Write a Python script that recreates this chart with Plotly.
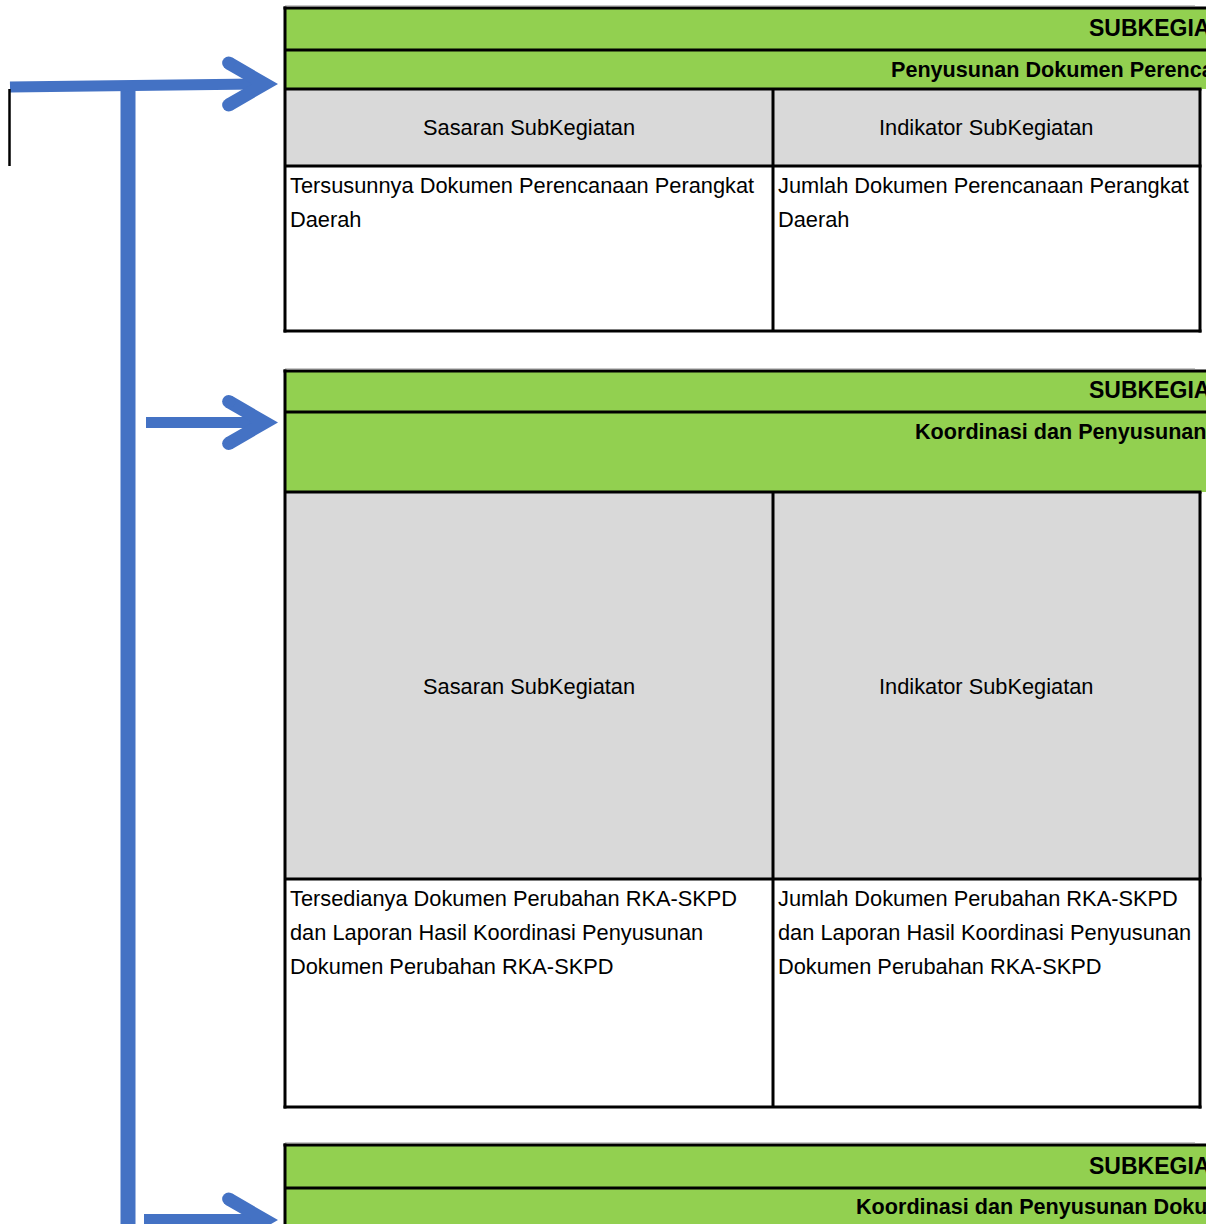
import math
import plotly.graph_objects as go

W, H = 1206, 1224

# ---------------- data (text content) ----------------
block_titles = ["SUBKEGIATAN", "SUBKEGIATAN", "SUBKEGIATAN"]
block_subtitles = [
    "Penyusunan Dokumen Perencanaan Perangkat Daerah",
    "Koordinasi dan Penyusunan Dokumen Perubahan RKA-SKPD",
    "Koordinasi dan Penyusunan Dokumen RKA-SKPD",
]
column_headers = ["Sasaran SubKegiatan", "Indikator SubKegiatan"]
sasaran_lines = [
    ["Tersusunnya Dokumen Perencanaan Perangkat", "Daerah"],
    ["Tersedianya Dokumen Perubahan RKA-SKPD",
     "dan Laporan Hasil Koordinasi Penyusunan",
     "Dokumen Perubahan RKA-SKPD"],
]
indikator_lines = [
    ["Jumlah Dokumen Perencanaan Perangkat", "Daerah"],
    ["Jumlah Dokumen Perubahan RKA-SKPD",
     "dan Laporan Hasil Koordinasi Penyusunan",
     "Dokumen Perubahan RKA-SKPD"],
]

# ---------------- layout / style constants ----------------
GREEN = "#92D050"
GRAY = "#D9D9D9"
BLUE = "#4472C4"
BLACK = "#000000"
FONT = "Liberation Sans Narrow, Arial Narrow, Liberation Sans, Arial, sans-serif"

BODY_SIZE = 21.8
TITLE_SIZE = 23
SUB_SIZE = 21.6

X_LEFT, X_MID, X_RIGHT = 285, 773, 1200
BORDER = 3

blocks = [
    dict(top=8, sep=50, green_bot=89, gray_bot=166, white_bot=331,
         title_y=28, sub_x=889, sub_y=69, head_y=127, text_y=185),
    dict(top=371, sep=412, green_bot=492, gray_bot=879, white_bot=1107,
         title_y=390, sub_x=913, sub_y=431, head_y=686, text_y=898),
    dict(top=1145, sep=1188, green_bot=H + 20, gray_bot=None, white_bot=None,
         title_y=1166, sub_x=854, sub_y=1206, head_y=None, text_y=None),
]
TITLE_X = 1087
TEXT_PAD = 288
LINE_H = 34

shapes = []
annotations = []


def rect(x0, y0, x1, y1, color):
    shapes.append(dict(type="rect", xref="x", yref="y", x0=x0, y0=y0, x1=x1, y1=y1,
                       fillcolor=color, line=dict(width=0), layer="below"))


def hline(x0, x1, y, color=BLACK, w=BORDER):
    shapes.append(dict(type="line", xref="x", yref="y", x0=x0, x1=x1, y0=y, y1=y,
                       line=dict(color=color, width=w)))


def vline(x, y0, y1, color=BLACK, w=BORDER):
    shapes.append(dict(type="line", xref="x", yref="y", x0=x, x1=x, y0=y0, y1=y1,
                       line=dict(color=color, width=w)))


def text(x, y, s, size, bold=False, xanchor="left"):
    annotations.append(dict(x=x, y=y, xref="x", yref="y", text=f"<b>{s}</b>" if bold else s,
                            showarrow=False, xanchor=xanchor, yanchor="middle",
                            font=dict(family=FONT, size=size, color=BLACK)))


for i, b in enumerate(blocks):
    # fills
    rect(X_LEFT, b["top"], W + 20, b["green_bot"], GREEN)
    if b["gray_bot"] is not None:
        rect(X_LEFT, b["green_bot"], X_RIGHT, b["gray_bot"], GRAY)
        rect(X_LEFT, b["gray_bot"], X_RIGHT, b["white_bot"], "white")
    # faint line above block
    hline(X_LEFT, 1195, b["top"] - 2.5, color="#C8C8C8", w=1)
    # borders
    hline(X_LEFT - 1.5, W + 20, b["top"])
    hline(X_LEFT, W + 20, b["sep"])
    bottom = b["white_bot"] if b["white_bot"] is not None else H + 20
    vline(X_LEFT, b["top"] - 1.5, bottom + 1.5)
    if b["gray_bot"] is not None:
        hline(X_LEFT, X_RIGHT + 1.5, b["green_bot"])
        hline(X_LEFT, X_RIGHT + 1.5, b["gray_bot"])
        hline(X_LEFT - 1.5, X_RIGHT + 1.5, b["white_bot"])
        vline(X_MID, b["green_bot"], b["white_bot"])
        vline(X_RIGHT, b["green_bot"], b["white_bot"] + 1.5)
    # texts
    text(TITLE_X, b["title_y"], block_titles[i], TITLE_SIZE, bold=True)
    text(b["sub_x"], b["sub_y"], block_subtitles[i], SUB_SIZE, bold=True)
    if b["head_y"] is not None:
        text((X_LEFT + X_MID) / 2, b["head_y"], column_headers[0], BODY_SIZE, xanchor="center")
        text((X_MID + X_RIGHT) / 2, b["head_y"], column_headers[1], BODY_SIZE, xanchor="center")
        for k, ln in enumerate(sasaran_lines[i]):
            text(TEXT_PAD, b["text_y"] + k * LINE_H, ln, BODY_SIZE)
        for k, ln in enumerate(indikator_lines[i]):
            text(X_MID + 3, b["text_y"] + k * LINE_H, ln, BODY_SIZE)

# ---------------- connector arrows ----------------
def chevron(tipx, tipy, h=6.5, theta_deg=30, L=42):
    th = math.radians(theta_deg)
    s, c = math.sin(th), math.cos(th)
    cx = tipx - h / s
    ix = tipx - 2 * h / s
    eu = (cx - L * c, tipy - L * s)
    ed = (cx - L * c, tipy + L * s)
    nu = (s, -c)
    nd = (s, c)
    pts = [
        (tipx, tipy),
        (eu[0] + h * nu[0], eu[1] + h * nu[1]),
        (eu[0] - h * nu[0], eu[1] - h * nu[1]),
        (ix, tipy),
        (ed[0] - h * nd[0], ed[1] - h * nd[1]),
        (ed[0] + h * nd[0], ed[1] + h * nd[1]),
    ]
    path = "M " + " L ".join(f"{x:.2f},{y:.2f}" for x, y in pts) + " Z"
    shapes.append(dict(type="path", xref="x", yref="y", path=path,
                       fillcolor=BLUE, line=dict(width=0)))
    for e in (eu, ed):
        shapes.append(dict(type="circle", xref="x", yref="y",
                           x0=e[0] - h, x1=e[0] + h, y0=e[1] - h, y1=e[1] + h,
                           fillcolor=BLUE, line=dict(width=0)))


# trunk and branches
shapes.append(dict(type="line", xref="x", yref="y", x0=128, x1=128, y0=84, y1=H + 20,
                   line=dict(color=BLUE, width=15)))
shapes.append(dict(type="line", xref="x", yref="y", x0=10, x1=262, y0=87, y1=84,
                   line=dict(color=BLUE, width=11)))
chevron(278, 84)
shapes.append(dict(type="line", xref="x", yref="y", x0=146, x1=262, y0=422.5, y1=422.5,
                   line=dict(color=BLUE, width=11)))
chevron(278, 422.5)
shapes.append(dict(type="line", xref="x", yref="y", x0=144, x1=262, y0=1219.5, y1=1219.5,
                   line=dict(color=BLUE, width=11)))
chevron(278, 1220)
# thin black mark at far left
shapes.append(dict(type="line", xref="x", yref="y", x0=9.5, x1=9.5, y0=89, y1=166,
                   line=dict(color=BLACK, width=2.5)))

fig = go.Figure()
fig.update_layout(
    width=W, height=H,
    margin=dict(l=0, r=0, t=0, b=0),
    paper_bgcolor="white", plot_bgcolor="white",
    xaxis=dict(range=[0, W], visible=False, fixedrange=True),
    yaxis=dict(range=[H, 0], visible=False, fixedrange=True),
    shapes=shapes, annotations=annotations, showlegend=False,
)
fig.write_html("out.html", config={"displayModeBar": False},
               post_script="document.body.style.margin='0';document.body.style.overflow='hidden';")
